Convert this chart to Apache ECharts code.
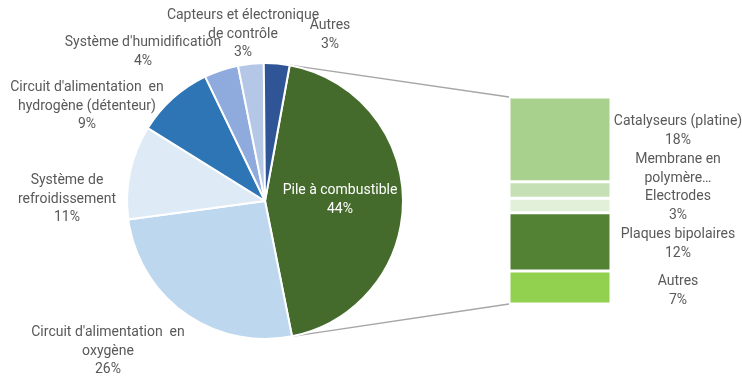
<!DOCTYPE html>
<html><head><meta charset="utf-8">
<script src="https://cdn.jsdelivr.net/npm/echarts@6/dist/echarts.min.js"></script>
<style>html,body{margin:0;padding:0;background:#fff}#c{width:742px;height:378px}</style>
</head><body><div id="c"></div>
<script>
var pieNames = ["Pile à combustible", "Circuit d'alimentation  en\noxygène", "Système de\nrefroidissement", "Circuit d'alimentation  en\nhydrogène (détenteur)", "Système d'humidification", "Capteurs et électronique\nde contrôle", "Autres"];
var pieValues = [44, 26, 11, 9, 4, 3, 3];
var pieColors = ["#456B2C", "#BDD7EE", "#DEEBF7", "#2E75B6", "#8FAADC", "#B4C7E7", "#2F5597"];
var barNames = ["Catalyseurs (platine)", "Membrane en\npolymère…", "Electrodes", "Plaques bipolaires", "Autres"];
var barValues = [18, 3.5, 3.1, 12.4, 7];
var barColors = ["#A9D18E", "#C5E0B4", "#E2F0D9", "#548235", "#92D050"];
var barShowPct = [true, false, true, true, true];

var FONT = "Roboto";
var TXT = "#595959";
var FS = 14, LH = 18.5;
var cx = 265, cy = 201, R = 138;
var startDeg = 10.3; // clockwise from 12 o'clock
var total = pieValues.reduce(function(a,b){return a+b;},0);
var pieLabelPos = [[340,200],[108,351],[67,199],[87,106],[143,52],[243,34],[330,35]];
var barLabelY = [131,169,206,244,291];

function pt(deg){var a=deg*Math.PI/180;return [cx+R*Math.sin(a), cy-R*Math.cos(a)];}
var endDeg = startDeg + pieValues[0]/total*360;
var p1 = pt(startDeg), p2 = pt(endDeg);
var barL = 509, barT = 97, barW = 102, barH = 207;

var series = [{
  type:'pie', center:[cx,cy], radius:R, startAngle:90-startDeg, clockwise:true,
  animation:false,
  itemStyle:{borderColor:'#fff', borderWidth:2},
  label:{show:true, position:'inside', fontFamily:FONT, fontSize:FS, color:TXT, lineHeight:LH, overflow:'none',
    formatter:function(p){return p.name+'\n'+Math.round(p.value)+'%';}},
  labelLine:{show:false},
  labelLayout:function(p){var q=pieLabelPos[p.dataIndex];return {x:q[0],y:q[1],align:'center',verticalAlign:'middle'};},
  data:pieNames.map(function(n,i){var d={name:n,value:pieValues[i],itemStyle:{color:pieColors[i]}};
    if(i===0){d.label={color:'#fff'};}return d;})
}];
barNames.forEach(function(n,i){
  series.push({type:'bar', stack:'s', name:n, barWidth:'100%', animation:false,
    xAxisIndex:0, yAxisIndex:0,
    itemStyle:{color:barColors[i], borderColor:'#fff', borderWidth:1.5},
    label:{show:true, fontFamily:FONT, fontSize:FS, color:TXT, lineHeight:LH,
      formatter:function(p){return barShowPct[i] ? n+'\n'+Math.round(p.value)+'%' : n;}},
    labelLayout:function(){return {x:678,y:barLabelY[i],align:'center',verticalAlign:'middle'};},
    data:[barValues[i]]});
});

var chart = echarts.init(document.getElementById('c'), null, {renderer:'canvas'});
chart.setOption({
  animation:false,
  grid:{left:barL, top:barT, width:barW, height:barH},
  xAxis:{type:'category', data:['x'], show:false},
  yAxis:{type:'value', min:0, max:barValues.reduce(function(a,b){return a+b;},0), inverse:true, show:false},
  graphic:[
    {type:'line', shape:{x1:p1[0],y1:p1[1],x2:barL,y2:barT}, style:{stroke:'#A6A6A6',lineWidth:1.3}, z:-1},
    {type:'line', shape:{x1:p2[0],y1:p2[1],x2:barL,y2:barT+barH}, style:{stroke:'#A6A6A6',lineWidth:1.3}, z:-1}
  ],
  series:series
});
</script></body></html>
